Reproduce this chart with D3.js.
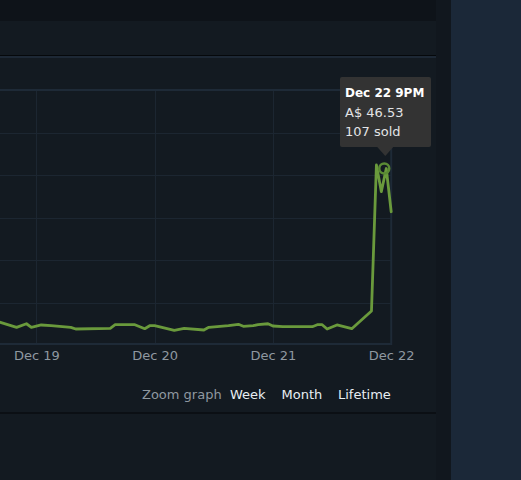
<!DOCTYPE html>
<html>
<head>
<meta charset="utf-8">
<script src="https://cdn.jsdelivr.net/npm/d3@7"></script>
<style>
  html, body { margin: 0; padding: 0; background: #131a21; }
  svg { display: block; }
  text { font-family: "DejaVu Sans", Verdana, sans-serif; }
</style>
</head>
<body>
<svg id="chart" width="521" height="480"></svg>
<script>
// ---- data ----
// hours relative to Dec 19 00:00
const hours  = [-8, -4, -2, -1, 1, 3, 7, 8, 15, 16, 20, 22, 23, 24, 28, 30, 34, 35, 39, 41, 42, 44, 45, 47, 48, 50, 56, 57, 58, 59, 61, 64, 68, 69, 70, 71, 72];
const prices = [10.6, 9.16, 10.0, 9.16, 9.71, 9.54, 9.16, 8.76, 8.93, 9.78, 9.78, 8.84, 9.54, 9.54, 8.46, 8.93, 8.53, 9.16, 9.54, 9.87, 9.40, 9.54, 9.78, 10.0, 9.47, 9.31, 9.31, 9.78, 9.78, 8.76, 9.71, 8.84, 13.0, 47.35, 41.07, 46.53, 36.36];
const tickLabels = ["Dec 19", "Dec 20", "Dec 21", "Dec 22"];
const tickDates  = ["2023-12-19", "2023-12-20", "2023-12-21", "2023-12-22"];
const yGrid = [5, 15, 25, 35, 45, 55, 65];
const highlightIndex = 35;
const tipLines = ["Dec 22 9PM", "A$ 46.53", "107 sold"];
const zoomLabel = "Zoom graph";
const zoomLinks = ["Week", "Month", "Lifetime"];

// ---- setup ----
const svg = d3.select("#chart");
const base = new Date(2023, 11, 19, 0, 0, 0);
const toDate = h => new Date(base.getTime() + h * 3600 * 1000);
const parse = s => { const p = s.split("-").map(Number); return new Date(p[0], p[1]-1, p[2]); };

const x = d3.scaleTime()
  .domain([parse(tickDates[0]), parse(tickDates[3])])
  .range([36.3, 391.2]);
const y = d3.scaleLinear().domain([5, 65]).range([345, 90]);

// backgrounds
svg.append("rect").attr("width", 521).attr("height", 480).attr("fill", "#131a21");
svg.append("rect").attr("x", 436).attr("width", 15).attr("height", 480).attr("fill", "#11171e");
svg.append("rect").attr("x", 451).attr("width", 70).attr("height", 480).attr("fill", "#1b2838");
svg.append("rect").attr("x", 0).attr("y", 0).attr("width", 436).attr("height", 21).attr("fill", "#0e1319");
svg.append("rect").attr("x", 0).attr("y", 55).attr("width", 436).attr("height", 1).attr("fill", "#05080b");
svg.append("rect").attr("x", 0).attr("y", 56).attr("width", 436).attr("height", 2).attr("fill", "#1d2835");
svg.append("rect").attr("x", 0).attr("y", 412).attr("width", 436).attr("height", 2).attr("fill", "#0b0f14");

// grid
const g = svg.append("g");
g.selectAll("line.h").data(yGrid.slice(1, -1)).enter().append("line")
  .attr("x1", 0).attr("x2", 391).attr("y1", d => Math.round(y(d)) + 0.5).attr("y2", d => Math.round(y(d)) + 0.5)
  .attr("stroke", "#1c2631").attr("stroke-width", 1);
g.selectAll("line.v").data(tickDates.slice(0, 3)).enter().append("line")
  .attr("x1", d => Math.round(x(parse(d))) + 0.5).attr("x2", d => Math.round(x(parse(d))) + 0.5)
  .attr("y1", 90).attr("y2", 344)
  .attr("stroke", "#1c2631").attr("stroke-width", 1);
// frame
g.append("line").attr("x1", 0).attr("x2", 392).attr("y1", y(65)).attr("y2", y(65)).attr("stroke", "#1e2a37").attr("stroke-width", 2);
g.append("line").attr("x1", 0).attr("x2", 392).attr("y1", 344).attr("y2", 344).attr("stroke", "#1e2a37").attr("stroke-width", 2);
g.append("line").attr("x1", x(parse(tickDates[3]))).attr("x2", x(parse(tickDates[3]))).attr("y1", 89).attr("y2", 345).attr("stroke", "#1e2a37").attr("stroke-width", 2);

// axis labels
const xAxis = d3.axisBottom(x)
  .tickValues(tickDates.map(parse))
  .tickFormat((d, i) => tickLabels[i])
  .tickSize(0).tickPadding(0);
const ax = svg.append("g").attr("transform", "translate(0,346)").call(xAxis);
ax.select(".domain").remove();
ax.selectAll("text").attr("fill", "#8f98a0").attr("font-size", 13)
  .attr("dy", null).attr("y", 14)
  .style("font-family", "'DejaVu Sans', Verdana, sans-serif");

// line
const data = hours.map((h, i) => ({ t: toDate(h), v: prices[i] }));
const line = d3.line().x(d => x(d.t)).y(d => y(d.v));
svg.append("path").datum(data)
  .attr("d", line)
  .attr("fill", "none")
  .attr("stroke", "#6a9a3c")
  .attr("stroke-width", 2.8)
  .attr("stroke-linejoin", "round")
  .attr("stroke-linecap", "round");

// highlight
const hp = data[highlightIndex];
svg.append("circle").attr("cx", x(hp.t) - 2).attr("cy", y(hp.v)).attr("r", 5)
  .attr("fill", "none").attr("stroke", "#5a8a34").attr("stroke-width", 2.5);

// tooltip
const tip = svg.append("g");
const tx = 340, ty = 77, tw = 91, th = 70;
const px = x(hp.t) - 1;
tip.append("rect").attr("x", tx).attr("y", ty).attr("width", tw).attr("height", th).attr("rx", 2)
  .attr("fill", "#333333");
tip.append("path").attr("d", `M${px - 8},${ty + th} L${px + 8},${ty + th} L${px},${ty + th + 9} Z`).attr("fill", "#333333");
tip.selectAll("text").data(tipLines).enter().append("text")
  .attr("x", tx + 5)
  .attr("y", (d, i) => ty + 20 + i * 19.5)
  .attr("fill", (d, i) => i === 0 ? "#ffffff" : "#e2e4e6")
  .attr("font-weight", (d, i) => i === 0 ? "bold" : "normal")
  .attr("font-size", (d, i) => i === 0 ? 12 : 13)
  .text(d => d);

// zoom row
svg.append("text").attr("x", 142).attr("y", 399).attr("fill", "#8f98a0").attr("font-size", 13).text(zoomLabel);
const linkX = [230, 281.5, 338];
svg.selectAll("text.zl").data(zoomLinks).enter().append("text")
  .attr("class", "zl")
  .attr("x", (d, i) => linkX[i]).attr("y", 399)
  .attr("fill", "#e8eef3").attr("font-size", 13).text(d => d);
</script>
</body>
</html>
